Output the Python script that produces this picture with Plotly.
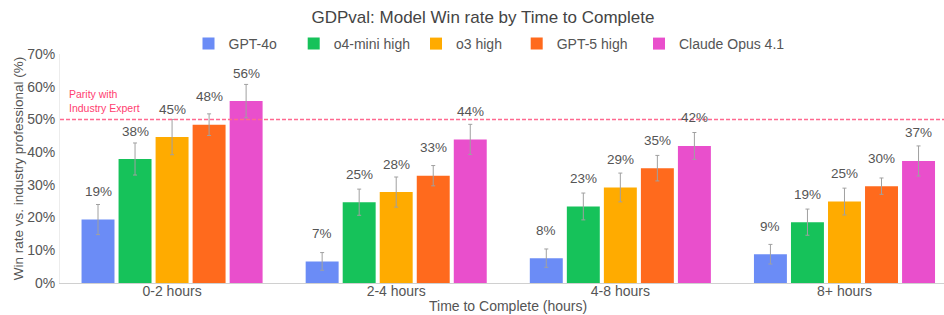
import plotly.graph_objects as go

categories = ["0-2 hours", "2-4 hours", "4-8 hours", "8+ hours"]
models = ["GPT-4o", "o4-mini high", "o3 high", "GPT-5 high", "Claude Opus 4.1"]
colors = ["#6b8cf6", "#16c25a", "#ffab00", "#ff6a1d", "#e94fcc"]

gpt4o = [19.4, 6.6, 7.6, 8.8]
o4mini = [37.9, 24.7, 23.4, 18.6]
o3 = [44.6, 27.8, 29.2, 24.9]
gpt5 = [48.4, 32.8, 35.1, 29.6]
claude = [55.6, 43.9, 41.9, 37.3]

err_gpt4o = [4.6, 2.7, 2.8, 3.0]
err_o4mini = [4.9, 4.0, 4.1, 4.0]
err_o3 = [5.4, 4.6, 4.4, 4.1]
err_gpt5 = [3.3, 3.1, 3.9, 2.5]
err_claude = [5.1, 4.6, 4.1, 4.6]

y_ticks = [0, 10, 20, 30, 40, 50, 60, 70]
parity_level = 50

series = [gpt4o, o4mini, o3, gpt5, claude]
errors = [err_gpt4o, err_o4mini, err_o3, err_gpt5, err_claude]

FONT = "Liberation Sans, Arial, Helvetica, sans-serif"
TXT = "#555555"
BARGAP = 0.174
GROUPGAP = 0.11
W, H = 944, 315
legend_x_px = [188.5, 293.7, 416, 516.7, 639]
legend_names = ["legend", "legend2", "legend3", "legend4", "legend5"]

fig = go.Figure()
xs = list(range(len(categories)))
for name, vals, errs, col, lg in zip(models, series, errors, colors, legend_names):
    fig.add_trace(go.Bar(
        x=xs, y=vals, name=name, legend=lg,
        marker=dict(color=col, line=dict(width=0)),
        error_y=dict(type="data", array=errs, visible=True, color="#a0a0a0",
                     thickness=1, width=2),
        hoverinfo="skip",
    ))

slot = (1 - BARGAP) / len(models)
for i, vals in enumerate(series):
    off = -(1 - BARGAP) / 2 + slot * (i + 0.5)
    for j, v in enumerate(vals):
        fig.add_annotation(x=j + off, y=v, xref="x", yref="y",
                           text=f"{v:.0f}%", showarrow=False, yshift=28,
                           yanchor="middle",
                           font=dict(family=FONT, size=13.5, color=TXT))

fig.add_hline(y=parity_level, line=dict(color="#ff6990", width=1.4, dash="4px,2px"))
fig.add_annotation(x=0, xref="paper", xanchor="left", xshift=7,
                   y=parity_level, yref="y", yanchor="bottom", yshift=3,
                   text="Parity with<br>Industry Expert", showarrow=False, align="left",
                   font=dict(family=FONT, size=10.5, color="#ff4070"))

fig.add_annotation(x=0.5065, xref="paper", y=-0.102, yref="paper",
                   xanchor="center", yanchor="middle", showarrow=False,
                   text="Time to Complete (hours)",
                   font=dict(family=FONT, size=14, color=TXT))

legends = {}
for lg, lx in zip(legend_names, legend_x_px):
    legends[lg] = dict(orientation="h", x=lx / W, xanchor="left", xref="container",
                       y=1 - 44 / H, yanchor="middle", yref="container",
                       font=dict(family=FONT, size=14, color=TXT),
                       bgcolor="rgba(0,0,0,0)", itemwidth=30)

fig.update_layout(
    width=W, height=H,
    margin=dict(l=60, r=0, t=54, b=32, autoexpand=False),
    paper_bgcolor="white", plot_bgcolor="white",
    barmode="group", bargap=BARGAP, bargroupgap=GROUPGAP,
    font=dict(family=FONT, size=14, color=TXT),
    title=dict(text="GDPval: Model Win rate by Time to Complete",
               x=483 / W, xanchor="center", xref="container",
               y=1 - 17 / H, yanchor="middle", yref="container",
               font=dict(family=FONT, size=17, color="#444444")),
    showlegend=True,
    **legends,
)
fig.update_xaxes(range=[-0.5, 3.444], tickvals=xs, ticktext=categories,
                 showgrid=False, zeroline=False, showline=True, linecolor="#d0d0d0",
                 linewidth=1, ticks="", automargin=False, ticklabelstandoff=-5,
                 tickfont=dict(family=FONT, size=14, color=TXT))
fig.update_yaxes(range=[0, 70], tickvals=y_ticks, ticktext=[f"{t}%" for t in y_ticks],
                 showgrid=False, zeroline=False, showline=True, linecolor="#ececec",
                 ticks="", ticklabelstandoff=1, automargin=False,
                 tickfont=dict(family=FONT, size=14, color=TXT),
                 title=dict(text="Win rate vs. industry professional (%)", standoff=0,
                            font=dict(family=FONT, size=13.5, color=TXT)))

fig.write_html("out.html", config={"displayModeBar": False},
               post_script="document.body.style.margin='0';")
